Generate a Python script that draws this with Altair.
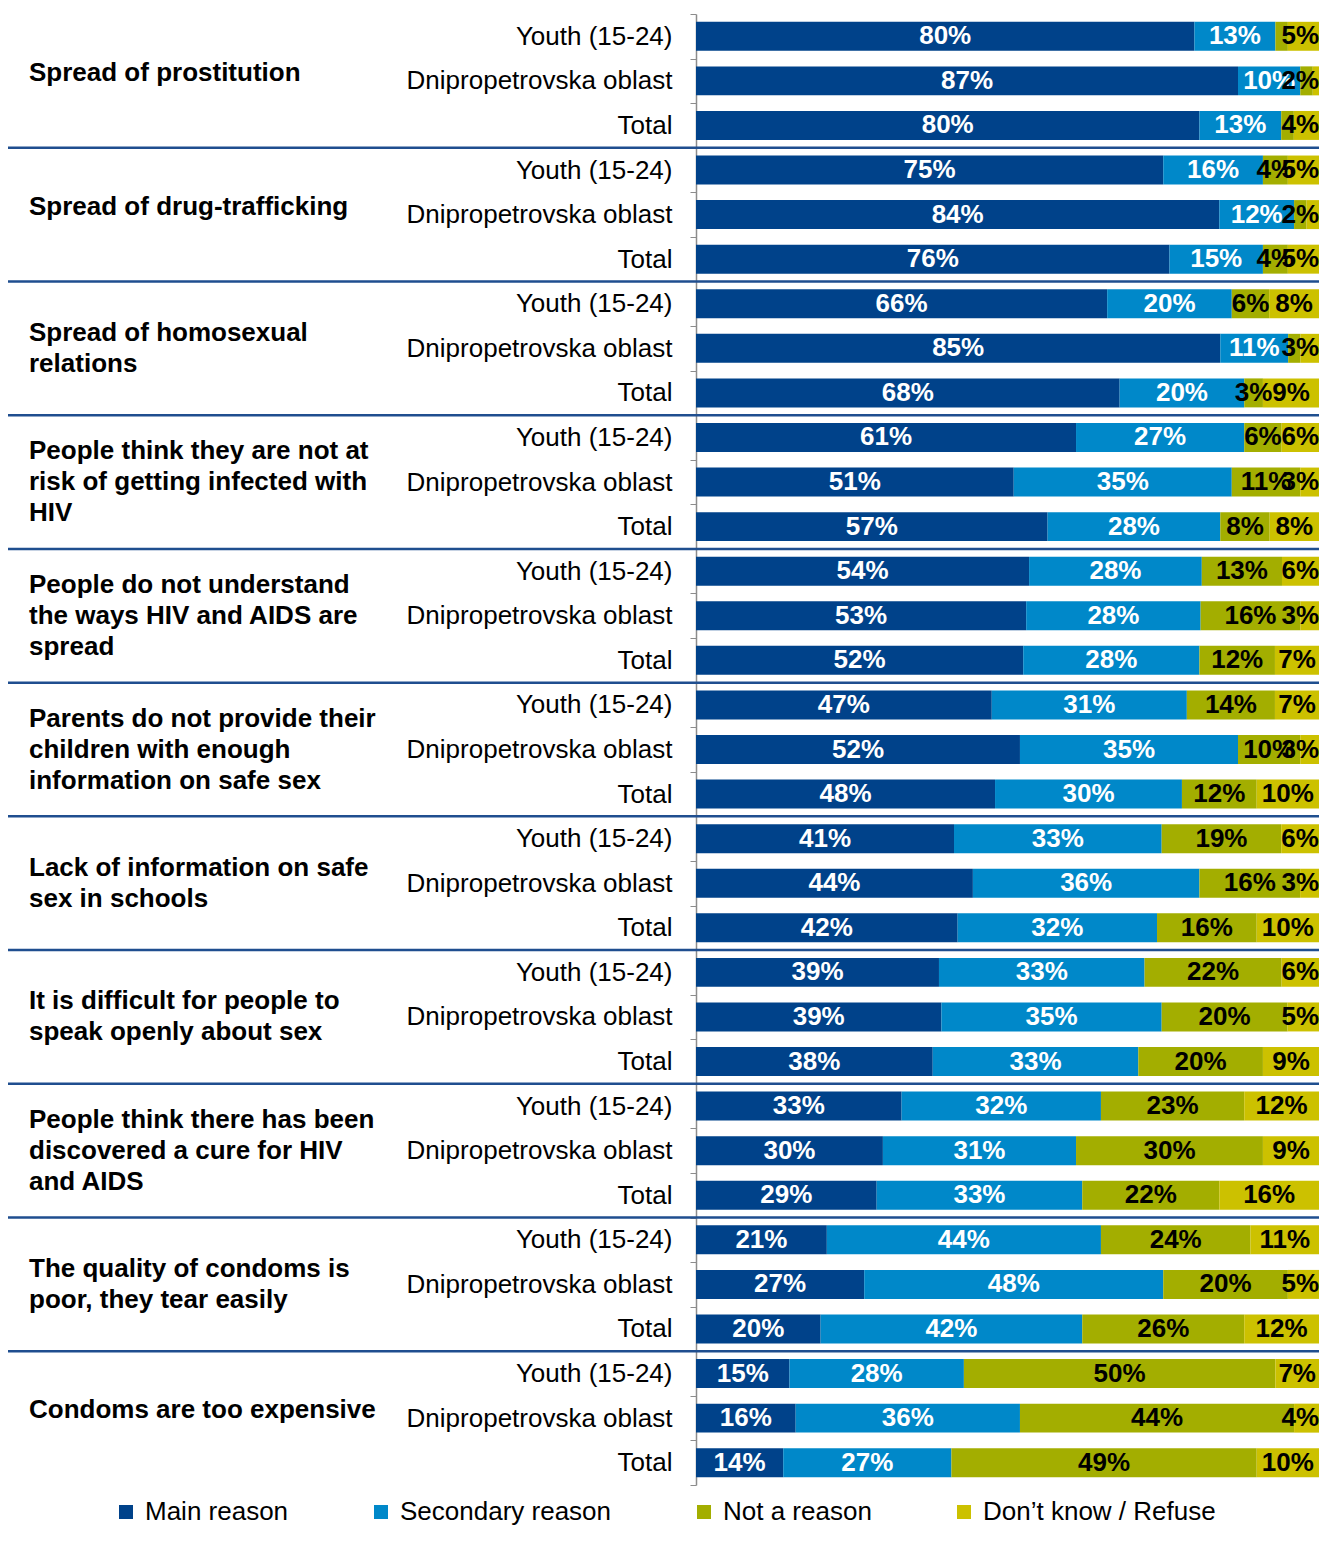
import json
import altair as alt
import pandas as pd

categories = [
    "Spread of prostitution",
    "Spread of drug-trafficking",
    "Spread of homosexual\nrelations",
    "People think they are not at\nrisk of getting infected with\nHIV",
    "People do not understand\nthe ways HIV and AIDS are\nspread",
    "Parents do not provide their\nchildren with enough\ninformation on safe sex",
    "Lack of information on safe\nsex in schools",
    "It is difficult for people to\nspeak openly about sex",
    "People think there has been\ndiscovered a cure for HIV\nand AIDS",
    "The quality of condoms is\npoor, they tear easily",
    "Condoms are too expensive",
]
subgroups = ["Youth (15-24)", "Dnipropetrovska oblast", "Total"]
series = ["Main reason", "Secondary reason", "Not a reason", "Don\u2019t know / Refuse"]
colors = ["#00428A", "#0088C9", "#A3AE00", "#CCC100"]

main_reason = [80, 87, 80, 75, 84, 76, 66, 85, 68, 61, 51, 57, 54, 53, 52, 47, 52, 48,
               41, 44, 42, 39, 39, 38, 33, 30, 29, 21, 27, 20, 15, 16, 14]
secondary = [13, 10, 13, 16, 12, 15, 20, 11, 20, 27, 35, 28, 28, 28, 28, 31, 35, 30,
             33, 36, 32, 33, 35, 33, 32, 31, 33, 44, 48, 42, 28, 36, 27]
not_reason = [2, 2, 2, 4, 2, 4, 6, 2, 3, 6, 11, 8, 13, 16, 12, 14, 10, 12,
              19, 16, 16, 22, 20, 20, 23, 30, 22, 24, 20, 26, 50, 44, 49]
dont_know = [5, 1, 4, 5, 2, 5, 8, 3, 9, 6, 3, 8, 6, 3, 7, 7, 3, 10,
             6, 3, 10, 6, 5, 9, 12, 9, 16, 11, 5, 12, 7, 4, 10]
# (row, series) segments whose value label is not shown in the original
hidden_labels = [(0, 2), (1, 3), (2, 2), (4, 3), (7, 2)]

values = [main_reason, secondary, not_reason, dont_know]
records = []
for g in range(len(categories)):
    for s in range(len(subgroups)):
        r = g * 3 + s
        for k, name in enumerate(series):
            v = values[k][r]
            records.append({
                "row": r,
                "series": name,
                "order": k,
                "value": v,
                "label": "" if (r, k) in hidden_labels else f"{v}%",
            })
df = pd.DataFrame(records)

cat_df = pd.DataFrame({
    "row": [g * 3 + 1 for g in range(len(categories))],
    "cat": categories,
    "nlines": [c.count("\n") + 1 for c in categories],
})
sep_df = pd.DataFrame({"row": [g * 3 for g in range(1, len(categories))]})

FONT = "Liberation Sans"
W, H = 623, 1471
LH = 31
n_rows = len(categories) * 3
yscale = alt.Scale(domain=list(range(n_rows)), paddingInner=0, paddingOuter=0)
xscale = alt.Scale(domain=[0, 1])

base = alt.Chart(df).transform_stack(
    stack="value", groupby=["row"], as_=["x0", "x1"],
    sort=[alt.SortField("order", "ascending")], offset="normalize",
).transform_calculate(
    # centre of the segment, kept inside the chart's right edge like the original
    mid=f"min((datum.x0 + datum.x1) / 2, ({W} - (14.5 * (length(datum.label) - 1) + 23) / 2) / {W})"
)

yaxis = alt.Axis(
    title=None,
    labelExpr=f"{json.dumps(subgroups)}[datum.value % 3]",
    labelFont=FONT, labelFontSize=26, labelColor="black",
    labelAlign="right", labelBaseline="middle", labelPadding=18, labelLimit=400,
    tickSize=6, tickColor="#8c8c8c", domainColor="#8c8c8c", domainWidth=1.5,
    tickBand="extent", grid=False,
)

bars = base.mark_bar(height={"band": 0.65}).encode(
    y=alt.Y("row:O", scale=yscale, axis=yaxis),
    x=alt.X("x0:Q", scale=xscale, axis=None),
    x2="x1:Q",
    color=alt.Color(
        "series:N",
        scale=alt.Scale(domain=series, range=colors),
        legend=alt.Legend(
            orient="none", legendX=-583, legendY=1485, direction="horizontal",
            title=None, symbolType="square", symbolSize=196, symbolStrokeWidth=0,
            labelFont=FONT, labelFontSize=26, labelColor="black", labelOffset=6,
            labelLimit=400, columnPadding=79, padding=0,
        ),
        sort=series,
    ),
    order=alt.Order("order:Q"),
)

labels = base.mark_text(
    font=FONT, fontSize=26, fontWeight="bold", align="center", baseline="middle"
).encode(
    y=alt.Y("row:O", scale=yscale, axis=yaxis),
    x=alt.X("mid:Q", scale=xscale, axis=None),
    text="label:N",
    color=alt.condition("datum.order < 2", alt.value("white"), alt.value("black")),
)

cat_layers = []
for n, shift in [(1, -8), (2, -LH / 2), (3, -LH)]:
    cat_layers.append(
        alt.Chart(cat_df).transform_filter(alt.datum.nlines == n).mark_text(
            font=FONT, fontSize=26, fontWeight="bold", align="left", baseline="middle",
            lineBreak="\n", lineHeight=LH, color="black", dy=shift,
        ).encode(
            y=alt.Y("row:O", scale=yscale, axis=yaxis),
            x=alt.value(-667),
            text="cat:N",
        )
    )

seps = alt.Chart(sep_df).mark_rule(color="#1F4E8F", strokeWidth=2.5).encode(
    y=alt.Y("row:O", scale=yscale, axis=yaxis, bandPosition=0),
    x=alt.value(-688),
    x2=alt.value(W),
)

chart = alt.layer(bars, labels, *cat_layers, seps).properties(
    width=W, height=H,
    autosize=alt.AutoSizeParams(type="none"),
    padding={"left": 688, "top": 6, "right": 0, "bottom": 44},
).configure_view(stroke=None)

chart.save("out.html", embed_options={"renderer": "svg", "actions": False})
